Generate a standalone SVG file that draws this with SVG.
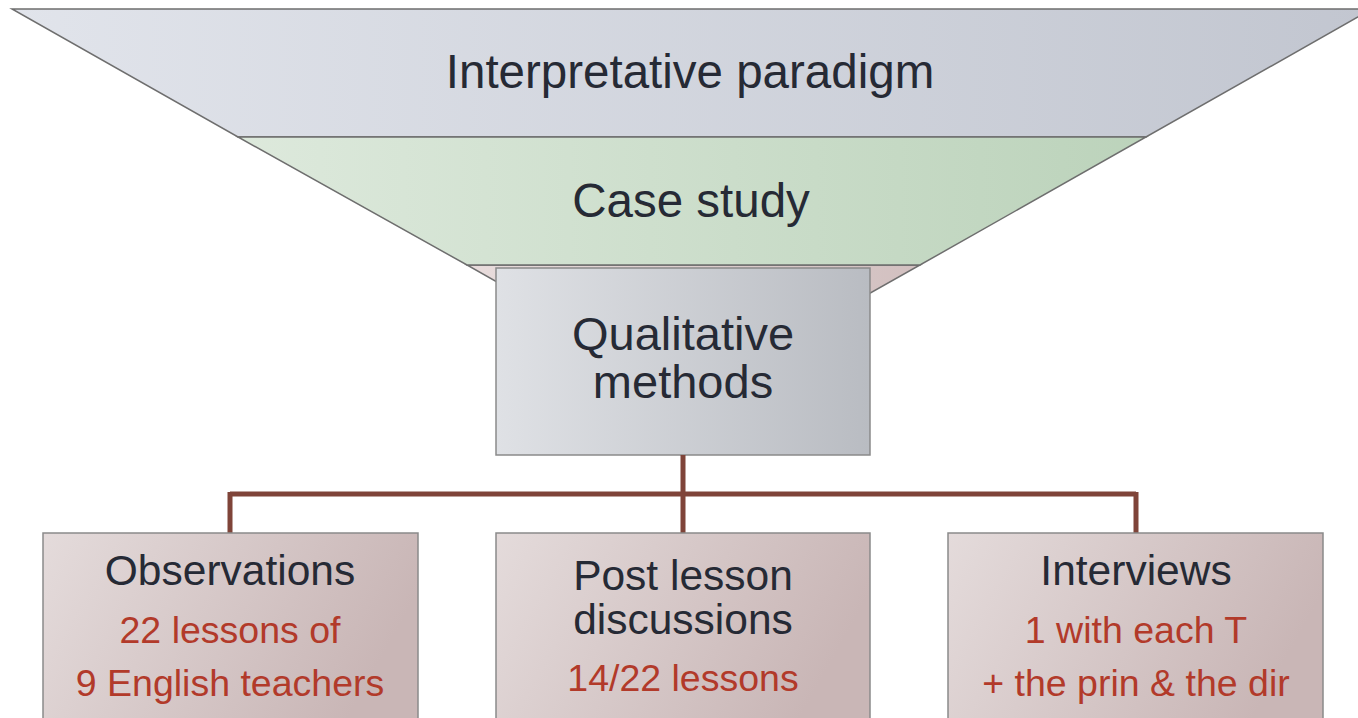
<svg xmlns="http://www.w3.org/2000/svg" width="1358" height="718" viewBox="0 0 1358 718">
<defs>
<linearGradient id="gTop" x1="0" y1="0" x2="1" y2="0"><stop offset="0" stop-color="#e1e4eb"/><stop offset="1" stop-color="#c2c6d0"/></linearGradient>
<linearGradient id="gGreen" x1="0" y1="0" x2="1" y2="0"><stop offset="0" stop-color="#dde9dc"/><stop offset="1" stop-color="#bcd3bb"/></linearGradient>
<linearGradient id="gPinkTri" x1="0" y1="0" x2="1" y2="0"><stop offset="0" stop-color="#e8dcdc"/><stop offset="1" stop-color="#d2c0c0"/></linearGradient>
<linearGradient id="gGray" x1="0" y1="0" x2="1" y2="0"><stop offset="0" stop-color="#dfe1e5"/><stop offset="1" stop-color="#b9bcc2"/></linearGradient>
<linearGradient id="gPink" x1="0" y1="0" x2="1" y2="0.3"><stop offset="0" stop-color="#e4dbdb"/><stop offset="1" stop-color="#c9b6b6"/></linearGradient>
</defs>
<style>
.band{stroke:#6e6e6e;stroke-width:1.5}
.box{stroke:#8a8a8a;stroke-width:1.5}
.t{font-family:"Liberation Sans",Arial,sans-serif;fill:#262a35;text-anchor:middle}
.r{font-family:"Liberation Sans",Arial,sans-serif;fill:#b23a2a;text-anchor:middle;font-size:37.5px}
.conn{stroke:#7f4439;stroke-width:5;fill:none}
</style>
<g id="funnel-pink"><polygon class="band" fill="url(#gPinkTri)" points="467,265 920,265 693,393"/></g>
<g id="interpretative-paradigm">
<polygon class="band" fill="url(#gTop)" points="12,9 1372,9 1146,137 238,137"/>
<text class="t" x="690" y="88" font-size="47.5">Interpretative paradigm</text>
</g>
<g id="case-study">
<polygon class="band" fill="url(#gGreen)" points="238,137 1146,137 920,265 467,265"/>
<text class="t" x="691" y="217" font-size="47.5">Case study</text>
</g>
<g id="qualitative-methods">
<rect class="box" x="496" y="268" width="374" height="187" fill="url(#gGray)"/>
<text class="t" x="683" y="350" font-size="47">Qualitative</text>
<text class="t" x="683" y="398" font-size="47">methods</text>
</g>
<g id="connectors">
<path class="conn" d="M683,455 V533 M230,494 H1136 M230,492 V533 M1136,492 V533"/>
</g>
<g id="observations">
<rect class="box" x="43" y="533" width="375" height="200" fill="url(#gPink)"/>
<text class="t" x="230" y="585" font-size="42.5">Observations</text>
<text class="r" x="230" y="643">22 lessons of</text>
<text class="r" x="230" y="696">9 English teachers</text>
</g>
<g id="post-lesson-discussions">
<rect class="box" x="496" y="533" width="374" height="200" fill="url(#gPink)"/>
<text class="t" x="683" y="590" font-size="42.5">Post lesson</text>
<text class="t" x="683" y="634" font-size="42.5">discussions</text>
<text class="r" x="683" y="691">14/22 lessons</text>
</g>
<g id="interviews">
<rect class="box" x="948" y="533" width="375" height="200" fill="url(#gPink)"/>
<text class="t" x="1136" y="585" font-size="42.5">Interviews</text>
<text class="r" x="1136" y="643">1 with each T</text>
<text class="r" x="1136" y="696">+ the prin &amp; the dir</text>
</g>
</svg>
